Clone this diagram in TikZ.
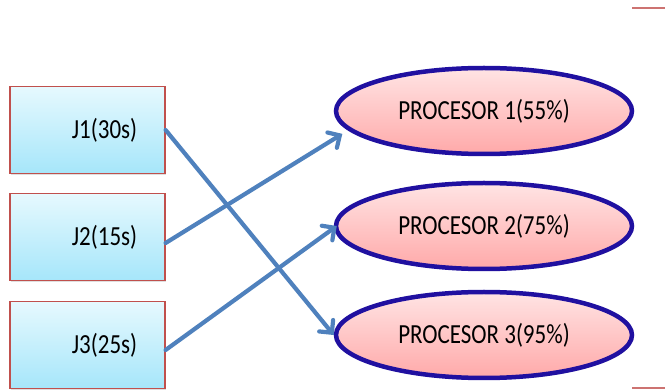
\documentclass[tikz,border=0pt]{standalone}
\usepackage{fontspec}
\setmainfont{Carlito}
\usepackage{graphicx}
\usepackage{tikz}
\usetikzlibrary{arrows.meta,shapes.geometric,shadows}

\definecolor{jobline}{HTML}{C0504D}
\definecolor{jobtop}{HTML}{E6F9FE}
\definecolor{jobbot}{HTML}{A6E6FA}
\definecolor{procline}{HTML}{2010A0}
\definecolor{proctop}{HTML}{FFE4E4}
\definecolor{procbot}{HTML}{FFA9A9}
\definecolor{arrblue}{HTML}{4F81BD}

\newcommand{\talltext}[1]{\scalebox{1}[1.2]{#1}}

\begin{document}
\begin{tikzpicture}[x=1pt, y=-1pt,
  job/.style={draw=jobline, line width=1.2pt, rectangle, minimum width=155pt, minimum height=87pt,
    top color=jobtop, bottom color=jobbot, font=\fontsize{23}{27}\selectfont,
    drop shadow={opacity=0.25, shadow xshift=1pt, shadow yshift=-2pt}},
  proc/.style={draw=procline, line width=4.5pt, ellipse, minimum width=296pt, minimum height=86pt,
    top color=proctop, bottom color=procbot, font=\fontsize{23}{27}\selectfont,
    drop shadow={opacity=0.25, shadow xshift=1pt, shadow yshift=-2pt}},
  arr/.style={-{Straight Barb[length=9pt, width=18pt, line cap=round]}, line width=4.2pt, draw=arrblue, line cap=round},
  mark line/.style={draw=jobline!80, line width=1.5pt}
]
\useasboundingbox (0,0) rectangle (665,390);

\node[job] (j1) at (87.5,130) {\hspace*{34pt}\raisebox{-3pt}{\talltext{J1(30s)}}};
\node[job] (j2) at (87.5,237) {\hspace*{34pt}\raisebox{-3pt}{\talltext{J2(15s)}}};
\node[job] (j3) at (87.5,345) {\hspace*{34pt}\raisebox{-3pt}{\talltext{J3(25s)}}};

\node[proc] (p1) at (484,111) {\talltext{PROCESOR 1(55\%)}};
\node[proc] (p2) at (484,226) {\talltext{PROCESOR 2(75\%)}};
\node[proc] (p3) at (484,335) {\talltext{PROCESOR 3(95\%)}};

\draw[arr] (j1.east) -- (p3.west);
\draw[arr] ([yshift=-6pt]j2.east) -- ([xshift=-12pt]p1.190);
\draw[arr] ([yshift=-5pt]j3.east) -- ([xshift=3pt]p2.west);

% small marks at the right edge
\coordinate (tl) at (632,8);
\coordinate (tr) at (665,8);
\coordinate (bl) at (632,388);
\coordinate (br) at (665,388);
\draw[mark line] (tl) -- (tr);
\draw[mark line] (bl) -- (br);
\end{tikzpicture}
\end{document}
